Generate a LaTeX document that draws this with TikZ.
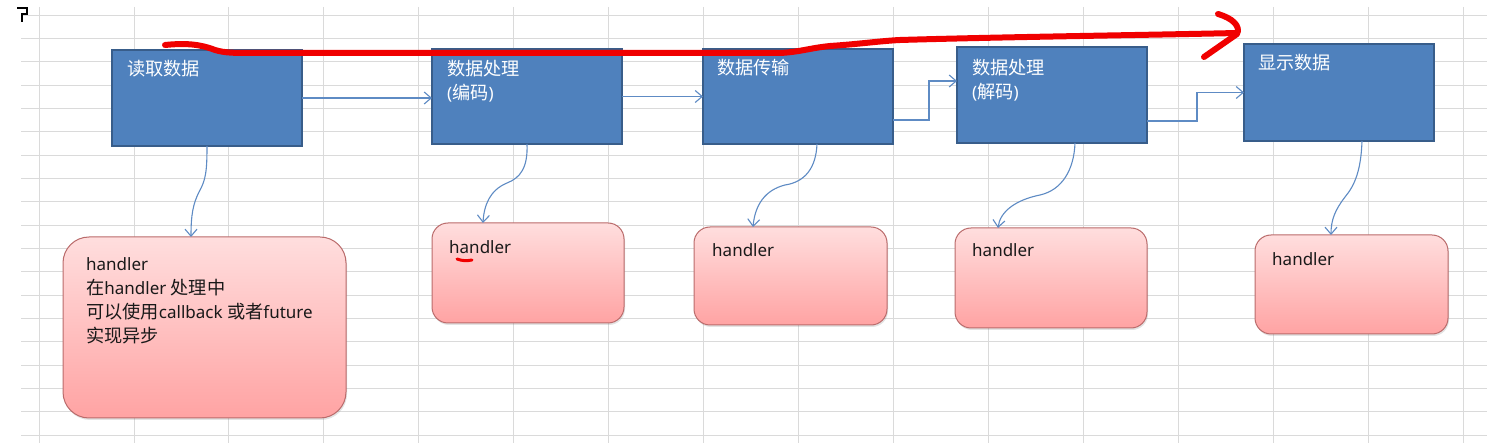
\documentclass[tikz,border=0pt]{standalone}
\usepackage{fontspec}
\setmainfont{Noto Sans}
\newfontfamily\cjk[Scale=1.07]{Noto Sans CJK SC}
\usetikzlibrary{arrows.meta,shadows,calc}

\definecolor{gridc}{HTML}{DADADA}
\definecolor{boxfill}{HTML}{4F81BD}
\definecolor{boxedge}{HTML}{385D8A}
\definecolor{flowc}{HTML}{5E8BC4}
\definecolor{pinktop}{HTML}{FFDEDE}
\definecolor{pinkbot}{HTML}{FFA3A3}
\definecolor{pinkedge}{HTML}{BA6B6B}
\definecolor{penred}{HTML}{F00000}

\begin{document}
\begin{tikzpicture}[x=1pt,y=-1pt,
  gridline/.style={draw=gridc, line width=0.9pt},
  stagebox/.style={draw=boxedge, fill=boxfill, line width=1.5pt, inner sep=0pt, outer sep=0pt, minimum width=190pt},
  handlerbox/.style={draw=pinkedge, line width=1pt, top color=pinktop, bottom color=pinkbot, inner sep=0pt, outer sep=0pt,
     drop shadow={opacity=0.22, shadow xshift=1pt, shadow yshift=-2pt}},
  stagetext/.style={text=white, anchor=base west, inner sep=0pt, align=left, font=\fontsize{17}{24}\selectfont},
  handlertext/.style={text=black!90, anchor=base west, inner sep=0pt, align=left, font=\fontsize{17}{24}\selectfont},
  flow/.style={draw=flowc, line width=1.1pt, -{Straight Barb[length=7pt,width=12pt]}},
  redpen/.style={draw=penred, line width=6pt, line cap=round, line join=round}
]
\useasboundingbox (0,0) rectangle (1497,443);
\fill[white] (0,0) rectangle (1497,443);

% spreadsheet grid
\foreach \k in {0,...,18} \draw[gridline] (21,{15+23.333*\k}) -- (1487,{15+23.333*\k});
\foreach \k in {0,...,15} \draw[gridline] ({39+94.95*\k},7) -- ({39+94.95*\k},443);

% corner mark
\draw[line width=2.2pt, black] (17,8) -- (27,8) -- (27,14) -- (22,14) -- (22,22);

% stage boxes
\node[stagebox, minimum height=96pt] (b1) at (207,98) {};
\node[stagebox, minimum height=95pt] (b2) at (527,96.5) {};
\node[stagebox, minimum height=95pt] (b3) at (798,96.5) {};
\node[stagebox, minimum height=96pt] (b4) at (1052,95) {};
\node[stagebox, minimum height=97pt] (b5) at (1339,92.5) {};

% (multi-line nodes: base anchor sits on the last line)
\node[stagetext] (t1) at ($(b1.north west)+(15,26)$) {\cjk 读取数据};
\node[stagetext] (t2) at ($(b2.north west)+(15,51)$) {{\cjk 数据处理}\\({\cjk 编码})};
\node[stagetext] (t3) at ($(b3.north west)+(14,26)$) {\cjk 数据传输};
\node[stagetext] (t4) at ($(b4.north west)+(15,52)$) {{\cjk 数据处理}\\({\cjk 解码})};
\node[stagetext] (t5) at ($(b5.north west)+(14,26)$) {\cjk 显示数据};

% handler boxes
\node[handlerbox, rounded corners=26pt, minimum width=283pt, minimum height=181pt] (h1) at (204.5,327.5) {};
\node[handlerbox, rounded corners=16pt, minimum width=192pt, minimum height=100pt] (h2) at (528,273) {};
\node[handlerbox, rounded corners=16pt, minimum width=193pt, minimum height=98pt] (h3) at (790.5,276) {};
\node[handlerbox, rounded corners=16pt, minimum width=192pt, minimum height=100pt] (h4) at (1051,278) {};
\node[handlerbox, rounded corners=16pt, minimum width=193pt, minimum height=99pt] (h5) at (1351.5,284.5) {};

\node[handlertext] (ht1) at ($(h1.north west)+(23,106)$) {handler\\{\cjk 在}handler {\cjk 处理中}\\{\cjk 可以使用}callback {\cjk 或者}future\\{\cjk 实现异步}};
\node[handlertext] (ht2) at ($(h2.north west)+(17,31)$) {handler};
\node[handlertext] (ht3) at ($(h3.north west)+(18,30)$) {handler};
\node[handlertext, font=\fontsize{17}{24}\selectfont\bfseries] (ht4) at ($(h4.north west)+(17,29)$) {handler};
\node[handlertext] (ht5) at ($(h5.north west)+(17,31)$) {handler};

% flow between stages
\draw[flow] (b1.east) -- (b1.east -| b2.west);
\draw[flow] (b2.east) -- (b3.west);
\draw[flow] ($(b3.east)+(0,23.5)$) -- ++(36,0) |- ($(b4.west)+(0,-14)$);
\draw[flow] ($(b4.east)+(0,26)$) -- ++(50,0) |- (b5.west);

% stage to handler
\draw[flow] (b1.south) .. controls (207,170) and (206,180) .. (199,192) .. controls (193,204) and (191,215) .. ([xshift=-13.5pt]h1.north);
\draw[flow] (b2.south) .. controls (528,168) and (520,178) .. (507,183) .. controls (490,190) and (484,205) .. ([xshift=-45pt]h2.north);
\draw[flow] ([xshift=19pt]b3.south) .. controls (816,168) and (805,182) .. (785,185) .. controls (765,190) and (755,205) .. ([xshift=-37.5pt]h3.north);
\draw[flow] ([xshift=23pt]b4.south) .. controls (1074,170) and (1062,190) .. (1040,195) .. controls (1015,200) and (1000,212) .. ([xshift=-53pt]h4.north);
\draw[flow] ([xshift=23pt]b5.south) .. controls (1361,170) and (1355,185) .. (1345,197) .. controls (1335,210) and (1331,220) .. ([xshift=-20.5pt]h5.north);

% red hand-drawn arrow
\draw[redpen] (165,45) .. controls (185,43) and (200,44) .. (215,50) .. controls (225,53) and (235,53) .. (250,53) -- (780,53)
  .. controls (800,52) and (810,48) .. (830,46) .. controls (860,44) and (880,41) .. (900,40)
  .. controls (1000,37) and (1150,35) .. (1237,33);
\draw[redpen] (1218,14) .. controls (1232,18) and (1241,26) .. (1237,34) -- (1204,57);
\draw[penred, line width=3pt, line cap=round] (457,259) .. controls (462,261) and (467,261) .. (472,260);
\end{tikzpicture}
\end{document}
